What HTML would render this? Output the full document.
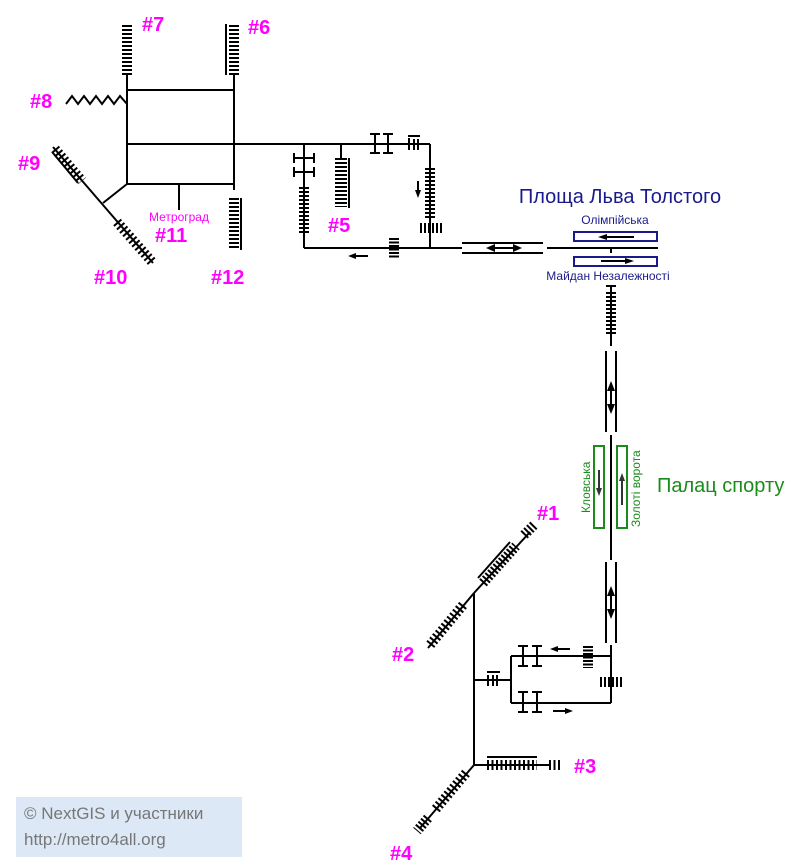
<!DOCTYPE html>
<html><head><meta charset="utf-8"><style>
body{margin:0;background:#fff;width:801px;height:868px;overflow:hidden}
svg{position:absolute;left:0;top:0}
.m{fill:#f0f;font:bold 20px "Liberation Sans",sans-serif}
</style></head><body>
<svg width="801" height="868" viewBox="0 0 801 868" font-family="'Liberation Sans','DejaVu Sans',sans-serif">
<g stroke="#000" stroke-width="2" fill="none">
<!-- box -->
<line x1="127" y1="75" x2="127" y2="184"/>
<line x1="234" y1="75" x2="234" y2="190"/>
<line x1="127" y1="90" x2="234" y2="90"/>
<line x1="127" y1="144" x2="430" y2="144"/>
<line x1="127" y1="184" x2="234" y2="184"/>
<line x1="179" y1="184" x2="179" y2="210"/>
<!-- #7 -->
<line x1="127" y1="25" x2="127" y2="75" stroke-width="10" stroke-dasharray="2 2"/>
<!-- #6 -->
<line x1="234" y1="25" x2="234" y2="75" stroke-width="10" stroke-dasharray="2 2"/>
<line x1="226" y1="24" x2="226" y2="75"/>
<!-- #8 zigzag -->
<polyline points="66,104 72,96 78,104 84,96 90,104 96,96 102,104 108,96 114,104 120,96 127,104"/>
<!-- #9/#10 -->
<line x1="127" y1="184" x2="103" y2="203"/>
<line x1="53" y1="147" x2="153" y2="263"/>
<line x1="55" y1="149" x2="82" y2="181" stroke-width="10" stroke-dasharray="2 2.6"/>
<line x1="53" y1="153" x2="78" y2="183"/>
<line x1="117" y1="222" x2="153" y2="263" stroke-width="10" stroke-dasharray="2 2.6"/>
<!-- #12 -->
<line x1="234" y1="198" x2="234" y2="250" stroke-width="10" stroke-dasharray="2 2"/>
<line x1="241" y1="198" x2="241" y2="250"/>
<!-- branch 304 -->
<line x1="304" y1="144" x2="304" y2="248"/>
<line x1="294" y1="158" x2="314" y2="158"/><line x1="294" y1="172" x2="314" y2="172"/>
<line x1="294" y1="153" x2="294" y2="163"/><line x1="314" y1="153" x2="314" y2="163"/>
<line x1="294" y1="167" x2="294" y2="177"/><line x1="314" y1="167" x2="314" y2="177"/>
<line x1="304" y1="187" x2="304" y2="235" stroke-width="10" stroke-dasharray="2 2"/>
<!-- #5 -->
<line x1="341" y1="144" x2="341" y2="158"/>
<line x1="341" y1="158" x2="341" y2="207" stroke-width="12" stroke-dasharray="2 2"/>
<line x1="349" y1="158" x2="349" y2="208"/>
<!-- I symbols -->
<line x1="375" y1="134" x2="375" y2="153"/><line x1="370" y1="134" x2="380" y2="134"/><line x1="370" y1="153" x2="380" y2="153"/>
<line x1="388" y1="134" x2="388" y2="153"/><line x1="383" y1="134" x2="393" y2="134"/><line x1="383" y1="153" x2="393" y2="153"/>
<line x1="409" y1="138" x2="409" y2="150"/><line x1="414" y1="139" x2="414" y2="150"/><line x1="418" y1="139" x2="418" y2="150"/><line x1="408" y1="136" x2="420" y2="136"/>
<!-- corner 430 -->
<line x1="430" y1="144" x2="430" y2="248"/>
<line x1="430" y1="168" x2="430" y2="218" stroke-width="10" stroke-dasharray="2 2"/>
<line x1="420" y1="228" x2="442" y2="228" stroke-width="10" stroke-dasharray="2 2"/>
<line x1="418" y1="181" x2="418" y2="194"/>
<line x1="304" y1="248" x2="462" y2="248"/>
<line x1="394" y1="238" x2="394" y2="259" stroke-width="10" stroke-dasharray="2 1.5"/>
<line x1="352" y1="256" x2="368" y2="256"/>
<!-- double section -->
<line x1="462" y1="243" x2="543" y2="243"/><line x1="462" y1="253" x2="543" y2="253"/>
<line x1="547" y1="248" x2="658" y2="248"/>
<line x1="490" y1="248" x2="518" y2="248"/>
<line x1="611" y1="248" x2="611" y2="253"/>
<!-- stations top -->
<rect x="574" y="232" width="83" height="9" stroke="#1a1a8c"/>
<rect x="574" y="257" width="83" height="9" stroke="#1a1a8c"/>
<line x1="604" y1="237" x2="634" y2="237"/>
<line x1="601" y1="261" x2="628" y2="261"/>
<!-- vertical 611 -->
<line x1="611" y1="286" x2="611" y2="346"/>
<line x1="606" y1="286" x2="616" y2="286"/>
<line x1="611" y1="292" x2="611" y2="336" stroke-width="10" stroke-dasharray="2 2"/>
<line x1="606" y1="351" x2="606" y2="432"/><line x1="616" y1="351" x2="616" y2="432"/>
<line x1="611" y1="385" x2="611" y2="410"/>
<line x1="611" y1="435" x2="611" y2="560"/>
<rect x="594" y="446" width="10" height="82" stroke="#1a8c1a"/>
<rect x="617" y="446" width="10" height="82" stroke="#1a8c1a"/>
<line x1="599" y1="470" x2="599" y2="492" stroke="#333"/>
<line x1="622" y1="478" x2="622" y2="505" stroke="#333"/>
<line x1="606" y1="562" x2="606" y2="643"/><line x1="616" y1="562" x2="616" y2="643"/>
<line x1="611" y1="590" x2="611" y2="615"/>
<!-- loop bottom -->
<line x1="611" y1="645" x2="611" y2="703"/>
<line x1="511" y1="656" x2="611" y2="656"/>
<line x1="511" y1="703" x2="611" y2="703"/>
<line x1="511" y1="656" x2="511" y2="703"/>
<line x1="523" y1="646" x2="523" y2="666"/><line x1="518" y1="646" x2="528" y2="646"/><line x1="518" y1="666" x2="528" y2="666"/>
<line x1="537" y1="646" x2="537" y2="666"/><line x1="532" y1="646" x2="542" y2="646"/><line x1="532" y1="666" x2="542" y2="666"/>
<line x1="523" y1="692" x2="523" y2="712"/><line x1="518" y1="692" x2="528" y2="692"/><line x1="518" y1="712" x2="528" y2="712"/>
<line x1="537" y1="692" x2="537" y2="712"/><line x1="532" y1="692" x2="542" y2="692"/><line x1="532" y1="712" x2="542" y2="712"/>
<line x1="555" y1="649" x2="570" y2="649"/>
<line x1="553" y1="711" x2="568" y2="711"/>
<line x1="588" y1="646" x2="588" y2="668" stroke-width="10" stroke-dasharray="2 1.5"/>
<line x1="600" y1="682" x2="622" y2="682" stroke-width="10" stroke-dasharray="2 2"/>
<!-- left trunk -->
<line x1="474" y1="593" x2="474" y2="765"/>
<line x1="474" y1="680" x2="511" y2="680"/>
<line x1="488" y1="675" x2="488" y2="686"/><line x1="493" y1="675" x2="493" y2="686"/><line x1="497" y1="675" x2="497" y2="686"/><line x1="487" y1="672" x2="500" y2="672"/>
<line x1="474" y1="593" x2="530" y2="532"/>
<line x1="483" y1="583" x2="516" y2="546" stroke-width="10" stroke-dasharray="2 2"/>
<line x1="478" y1="578" x2="510" y2="542"/>
<line x1="524" y1="535" x2="534" y2="525" stroke-width="10" stroke-dasharray="2 2"/>
<line x1="474" y1="593" x2="428" y2="648"/>
<line x1="463" y1="605" x2="430" y2="645" stroke-width="10" stroke-dasharray="2 2.5"/>
<line x1="474" y1="765" x2="549" y2="765"/>
<line x1="487" y1="765" x2="537" y2="765" stroke-width="10" stroke-dasharray="2 2.5"/>
<line x1="487" y1="757" x2="537" y2="757"/>
<line x1="549" y1="765" x2="562" y2="765" stroke-width="10" stroke-dasharray="2 2.5"/>
<line x1="474" y1="765" x2="420" y2="828"/>
<line x1="466" y1="773" x2="435" y2="810" stroke-width="10" stroke-dasharray="2 2.5"/>
<line x1="428" y1="818" x2="417" y2="831" stroke-width="10" stroke-dasharray="2 2"/>
</g>
<!-- arrowheads -->
<g fill="#000">
<polygon points="418,198 415,190 421,190"/>
<polygon points="348,256 356,253 356,259"/>
<polygon points="486,248 495,244 495,252"/><polygon points="522,248 513,244 513,252"/>
<polygon points="598,237 607,234 607,240"/>
<polygon points="634,261 625,258 625,264"/>
<polygon points="611,381 607,391 615,391"/><polygon points="611,414 607,404 615,404"/>
<polygon points="599,496 596,488 602,488" fill="#333"/>
<polygon points="622,473 619,481 625,481" fill="#333"/>
<polygon points="611,586 607,596 615,596"/><polygon points="611,619 607,609 615,609"/>
<polygon points="550,649 558,646 558,652"/>
<polygon points="573,711 565,708 565,714"/>
</g>
<g class="m" font-weight="bold" fill="#f0f" font-size="20">
<text x="142" y="31">#7</text><text x="248" y="34">#6</text><text x="30" y="108">#8</text>
<text x="18" y="170">#9</text><text x="94" y="284">#10</text><text x="155" y="242">#11</text>
<text x="211" y="284">#12</text><text x="328" y="232">#5</text><text x="537" y="520">#1</text>
<text x="392" y="661">#2</text><text x="574" y="773">#3</text><text x="390" y="860">#4</text>
</g>
<text x="149" y="221" fill="#f0f" font-size="12">Метроград</text>
<text x="620" y="203" fill="#1a1a8c" font-size="20" text-anchor="middle">Площа Льва Толстого</text>
<text x="615" y="224" fill="#1a1a8c" font-size="12" text-anchor="middle">Олімпійська</text>
<text x="608" y="280" fill="#1a1a8c" font-size="12" text-anchor="middle">Майдан Незалежності</text>
<text x="657" y="492" fill="#1a8c1a" font-size="20">Палац спорту</text>
<text transform="translate(590,513) rotate(-90)" fill="#1a8c1a" font-size="12">Кловська</text>
<text transform="translate(640,527) rotate(-90)" fill="#1a8c1a" font-size="12">Золоті ворота</text>
<rect x="16" y="797" width="226" height="60" fill="#dce8f5"/>
<text x="24" y="819" fill="#777" font-size="17">© NextGIS и участники</text>
<text x="24" y="845" fill="#777" font-size="17">http://metro4all.org</text>
</svg>
</body></html>
